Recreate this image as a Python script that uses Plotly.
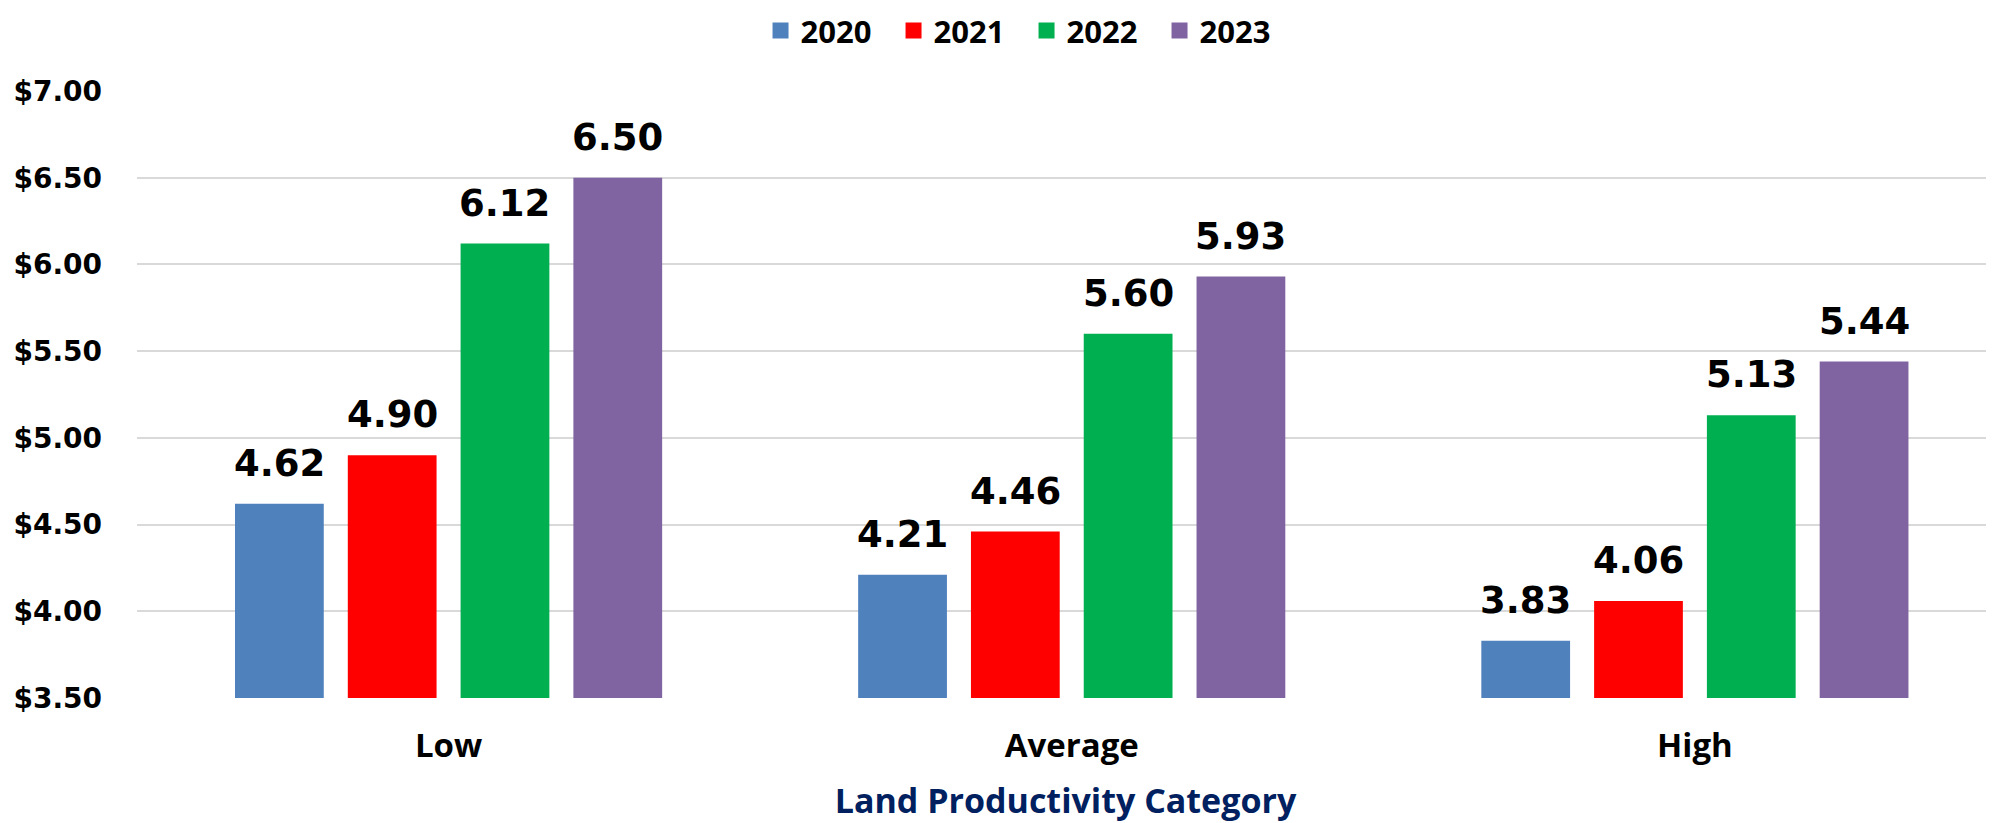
import plotly.graph_objects as go

categories = ["Low", "Average", "High"]
years = ["2020", "2021", "2022", "2023"]
values_2020 = [4.62, 4.21, 3.83]
values_2021 = [4.90, 4.46, 4.06]
values_2022 = [6.12, 5.60, 5.13]
values_2023 = [6.50, 5.93, 5.44]
y_ticks = [3.5, 4.0, 4.5, 5.0, 5.5, 6.0, 6.5, 7.0]
y_ticktext = ["$3.50", "$4.00", "$4.50", "$5.00", "$5.50", "$6.00", "$6.50", "$7.00"]

series = [values_2020, values_2021, values_2022, values_2023]
colors = ["#4F81BD", "#FF0000", "#00B050", "#8064A2"]

BARGAP = 0.276
BARGROUPGAP = 0.213
LABEL_FONT = dict(family="DejaVu Sans", size=37, color="black")
TXT = "Open Sans"

fig = go.Figure()
for name, vals, col in zip(years, series, colors):
    fig.add_trace(go.Bar(name=name, x=categories, y=vals, showlegend=False,
                         marker=dict(color=col, line=dict(width=0))))
# legend entries with larger square swatches
for name, col in zip(years, colors):
    fig.add_trace(go.Scatter(name=name, x=[None], y=[None], mode="markers",
                             marker=dict(symbol="square", size=21, color=col),
                             showlegend=True, hoverinfo="skip"))

slot = (1 - BARGAP) / len(series)
annotations = []
for j, vals in enumerate(series):
    for i, v in enumerate(vals):
        annotations.append(dict(
            x=i + (j - (len(series) - 1) / 2) * slot, y=v, xref="x", yref="y",
            text=f"<b>{v:.2f}</b>", showarrow=False, yanchor="bottom",
            yshift=17, font=LABEL_FONT))

fig.update_layout(
    width=1994, height=823,
    margin=dict(l=129, r=8, t=83, b=133, autoexpand=False),
    paper_bgcolor="white", plot_bgcolor="white",
    barmode="group", bargap=BARGAP, bargroupgap=BARGROUPGAP,
    annotations=annotations,
    legend=dict(orientation="h", x=0.3774, xref="container", xanchor="left",
                y=0.9722, yref="container", yanchor="middle",
                font=dict(family=TXT, size=31, color="black", weight="bold"),
                itemwidth=30, entrywidth=88, traceorder="normal"),
    xaxis=dict(range=[-0.5, 2.48], showgrid=False, showline=False, ticks="",
               automargin=False,
               tickfont=dict(family=TXT, size=33, color="black", weight="bold"),
               ticklabelstandoff=25,
               title=dict(text="<b>Land Productivity Category</b>",
                          font=dict(family=TXT, size=34, color="#002060"), standoff=23)),
    yaxis=dict(range=[3.5, 7.0], tickvals=y_ticks, ticktext=y_ticktext,
               showgrid=True, gridcolor="#D9D9D9", gridwidth=2,
               zeroline=False, showline=False, ticks="", automargin=False,
               tickfont=dict(family="DejaVu Sans", size=28, color="black", weight="bold"),
               ticklabelstandoff=34),
)

fig.write_html("out.html")
